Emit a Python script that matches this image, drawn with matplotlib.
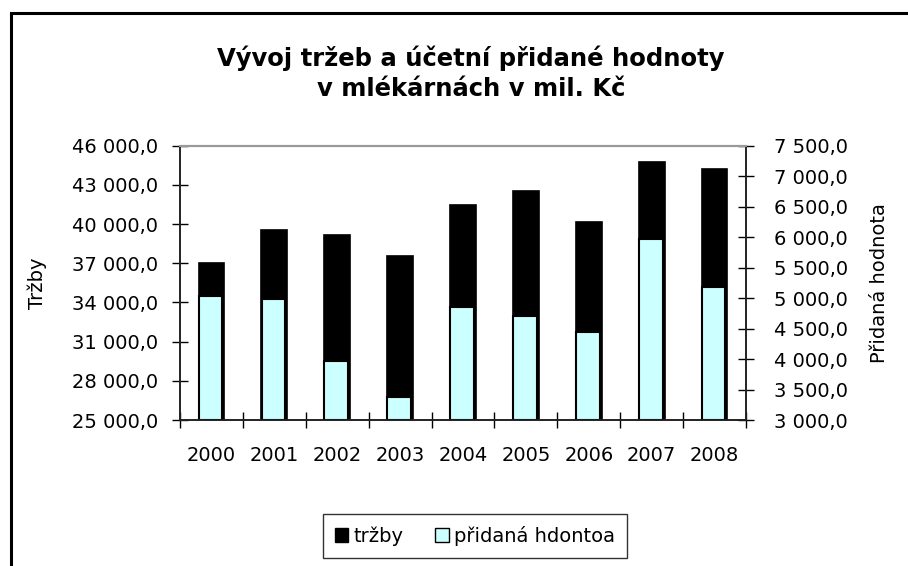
import numpy as np
import matplotlib
matplotlib.use('Agg')
import matplotlib.pyplot as plt
from matplotlib.patches import Rectangle, Patch
from matplotlib.ticker import FuncFormatter

plt.rcParams['font.family'] = ['DejaVu Sans']

years = ['2000', '2001', '2002', '2003', '2004', '2005', '2006', '2007', '2008']
trzby = [37000, 39570, 39140, 37580, 41430, 42530, 40180, 44750, 44240]
pridana = [5035, 4980, 3975, 3385, 4850, 4700, 4445, 5965, 5175]

left_ticks = [25000, 28000, 31000, 34000, 37000, 40000, 43000, 46000]
right_ticks = [3000, 3500, 4000, 4500, 5000, 5500, 6000, 6500, 7000, 7500]


def cz(v, pos=None):
    s = '{:,.1f}'.format(v)
    return s.replace(',', ' ').replace('.', ',')


fig = plt.figure(figsize=(9.08, 5.66), dpi=100)
W, H = 908, 566

# outer frame (cut off at right and bottom)
fig.patches.append(Rectangle((10.5 / W, -0.1), 2.0, 1 - 13.5 / H + 0.1,
                             transform=fig.transFigure, fill=False,
                             edgecolor='black', linewidth=2.2, zorder=0))

ax = fig.add_axes([180 / W, 1 - 420 / H, (746 - 180) / W, (420 - 145.7) / H])
ax2 = ax.twinx()

x = np.arange(len(years))
ax.bar(x, trzby, width=0.41, color='black', edgecolor='black', linewidth=1.2,
       bottom=0, zorder=2)
ax2.bar(x - 0.015, np.array(pridana) - 3000, bottom=3000, width=0.375,
        color='#CCFFFF', edgecolor='black', linewidth=1.5, zorder=2)

ax.set_xlim(-0.5, len(years) - 0.5)
ax.set_ylim(25000, 46000)
ax2.set_ylim(3000, 7500)
ax.set_yticks(left_ticks)
ax2.set_yticks(right_ticks)
ax.yaxis.set_major_formatter(FuncFormatter(cz))
ax2.yaxis.set_major_formatter(FuncFormatter(cz))

ax.set_xticks(np.arange(len(years) + 1) - 0.5)
ax.set_xticklabels([])
ax.set_xticks(x, minor=True)
ax.set_xticklabels(years, minor=True)
ax.tick_params(axis='x', which='major', direction='inout', length=11, width=1)
ax.tick_params(axis='x', which='minor', length=0, pad=19, labelsize=14)
ax.tick_params(axis='y', direction='inout', length=12, width=1, pad=10,
               labelsize=14)
ax2.tick_params(axis='y', direction='inout', length=12, width=1, pad=14,
                labelsize=14)

for a in (ax, ax2):
    a.spines['top'].set_color('#999999')
    a.spines['top'].set_linewidth(1.5)
    for s in ('left', 'right', 'bottom'):
        a.spines[s].set_color('#222222')
        a.spines[s].set_linewidth(1.2)

ax.set_ylabel('Tržby', fontsize=14, labelpad=18)
ax2.set_ylabel('Přidaná hodnota', fontsize=14, labelpad=16)

fig.text(471 / W, 1 - 58 / H, 'Vývoj tržeb a účetní přidané hodnoty',
         ha='center', va='center', fontsize=17.5, fontweight='bold')
fig.text(471 / W, 1 - 89 / H, 'v mlékárnách v mil. Kč',
         ha='center', va='center', fontsize=17.5, fontweight='bold')

handles = [Patch(facecolor='black', edgecolor='black'),
           Patch(facecolor='#CCFFFF', edgecolor='black')]
leg = fig.legend(handles, ['tržby', 'přidaná hdontoa'], ncol=2,
                 loc='center', bbox_to_anchor=(475 / W, 1 - 536 / H),
                 frameon=True, fancybox=False, fontsize=14,
                 handlelength=0.7, handleheight=0.7, handletextpad=0.3,
                 columnspacing=1.6, borderpad=0.6, borderaxespad=0)
leg.get_frame().set_edgecolor('black')
leg.get_frame().set_linewidth(1.0)

fig.savefig('out.png', dpi=100)
